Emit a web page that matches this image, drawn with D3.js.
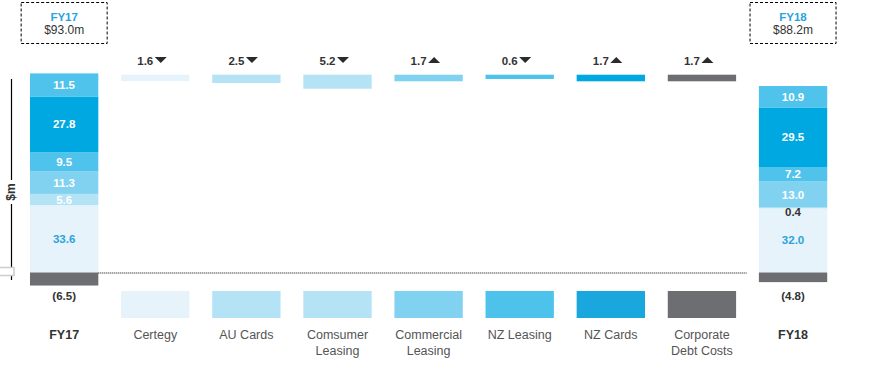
<!DOCTYPE html>
<html lang="en">
<head>
<meta charset="UTF-8">
<title>FY17 to FY18 bridge</title>
<script src="https://cdn.jsdelivr.net/npm/d3@7"></script>
<style>
  * { margin: 0; padding: 0; }
  body { background: #fff; }
  text { font-family: "Liberation Sans", Arial, sans-serif; }
</style>
</head>
<body>
<script>
  const width = 870
  const height = 374

  // data
  const categories = ['FY17', 'Certegy', 'AU Cards', 'Comsumer Leasing', 'Commercial Leasing',
    'NZ Leasing', 'NZ Cards', 'Corporate Debt Costs', 'FY18']
  const totalLabels = ['$93.0m', '$88.2m']
  // stack order, bottom to top
  const stackSegments = ['Certegy', 'Comsumer Leasing', 'Commercial Leasing', 'AU Cards', 'NZ Cards', 'NZ Leasing']
  const fy17Values = [33.6, 5.6, 11.3, 9.5, 27.8, 11.5]
  const fy18Values = [32.0, 0.4, 13.0, 7.2, 29.5, 10.9]
  const debtValues = [-6.5, -4.8]
  const moveValues = [1.6, 2.5, 5.2, 1.7, 0.6, 1.7, 1.7]
  const moveUp = [false, false, false, true, false, true, true]

  const segColors = ['#e7f3fa', '#b3e3f4', '#80d2f0', '#4fc3ec', '#00a8e1', '#4fc3ec']
  const moveColors = ['#e7f3fa', '#b3e3f4', '#b3e3f4', '#80d2f0', '#4dc3ec', '#00a8e1', '#6d6e71']
  const keyColors = ['#e7f3fa', '#b3e3f4', '#b3e3f4', '#80d2f0', '#4dc3ec', '#1aa7dd', '#6d6e71']
  const grey = '#6d6e71'
  const dark = '#333'

  const svg = d3.select('body').append('svg')
    .attr('width', width)
    .attr('height', height)

  const x = d3.scaleBand()
    .domain(categories)
    .range([18.6, 838.6])
    .paddingInner(0.25)
    .paddingOuter(0.125)
  const bw = x.bandwidth()
  const cx = d => x(d) + bw / 2

  const y = d3.scaleLinear().domain([0, 100]).range([272.5, 72])
  const moveH = d3.scaleLinear().domain([0, 5.2]).range([3, 14])

  // y axis line and label
  svg.append('line')
    .attr('x1', 11.5).attr('x2', 11.5).attr('y1', 79).attr('y2', 280)
    .attr('stroke', '#000').attr('stroke-width', 1.2)
  svg.append('rect')
    .attr('x', 4).attr('y', 180).attr('width', 15).attr('height', 24).attr('fill', '#fff')
  svg.append('text')
    .attr('transform', 'translate(15,192) rotate(-90)')
    .attr('text-anchor', 'middle')
    .attr('font-size', 12).attr('font-weight', 'bold').attr('fill', dark)
    .text('$m')
  svg.append('rect')
    .attr('x', -3).attr('y', 267.5).attr('width', 17).attr('height', 8)
    .attr('fill', '#fff').attr('stroke', '#ccc').attr('stroke-width', 1.5)

  // totals stacks
  const totals = [
    { name: 'FY17', values: fy17Values, debt: debtValues[0], label: totalLabels[0] },
    { name: 'FY18', values: fy18Values, debt: debtValues[1], label: totalLabels[1] }
  ]

  totals.forEach(t => {
    let base = 0
    const g = svg.append('g')
    const segs = t.values.map((v, i) => {
      const s = { v: v, y0: base, y1: base + v, i: i }
      base += v
      return s
    })
    g.selectAll('rect.seg')
      .data(segs)
      .enter().append('rect')
      .attr('class', 'seg')
      .attr('x', x(t.name))
      .attr('width', bw)
      .attr('y', d => y(d.y1))
      .attr('height', d => y(d.y0) - y(d.y1))
      .attr('fill', d => segColors[d.i])

    g.selectAll('text.seg')
      .data(segs)
      .enter().append('text')
      .attr('class', 'seg')
      .attr('x', cx(t.name))
      .attr('y', d => {
        const h = y(d.y0) - y(d.y1)
        return h < 10 ? y(d.y0) + 8 : (y(d.y0) + y(d.y1)) / 2 + 4
      })
      .attr('text-anchor', 'middle')
      .attr('font-size', 11.5).attr('font-weight', 'bold')
      .attr('fill', d => {
        const h = y(d.y0) - y(d.y1)
        if (h < 10) return dark
        return d.i === 0 ? '#29a3dc' : '#fff'
      })
      .text(d => d3.format('.1f')(d.v))

    // negative part
    g.append('rect')
      .attr('x', x(t.name)).attr('width', bw)
      .attr('y', y(0)).attr('height', y(t.debt) - y(0))
      .attr('fill', grey)
    g.append('text')
      .attr('x', cx(t.name)).attr('y', 300)
      .attr('text-anchor', 'middle')
      .attr('font-size', 11.5).attr('font-weight', 'bold').attr('fill', dark)
      .text('(' + d3.format('.1f')(-t.debt) + ')')

    // dashed box at the top
    g.append('rect')
      .attr('x', cx(t.name) - 43).attr('y', 2.5).attr('width', 86).attr('height', 41)
      .attr('fill', 'none').attr('stroke', '#000').attr('stroke-dasharray', '3,2')
    g.append('text')
      .attr('x', cx(t.name)).attr('y', 21)
      .attr('text-anchor', 'middle')
      .attr('font-size', 11.5).attr('font-weight', 'bold').attr('fill', '#29a3dc')
      .text(t.name)
    g.append('text')
      .attr('x', cx(t.name)).attr('y', 33.5)
      .attr('text-anchor', 'middle')
      .attr('font-size', 12).attr('fill', dark)
      .text(t.label)
  })

  // zero line
  svg.append('line')
    .attr('x1', x('FY17') + bw).attr('x2', x('FY18') - 12)
    .attr('y1', y(0) + 0.5).attr('y2', y(0) + 0.5)
    .attr('stroke', '#000').attr('stroke-dasharray', '1,1')

  // movement bars
  const moves = categories.slice(1, 8).map((c, i) => ({ c: c, v: moveValues[i], up: moveUp[i], i: i }))

  svg.selectAll('.move')
    .data(moves)
    .enter().append('rect')
    .attr('class', 'move')
    .attr('x', d => x(d.c))
    .attr('y', 74.7)
    .attr('width', bw)
    .attr('height', d => moveH(d.v))
    .attr('fill', d => moveColors[d.i])

  const ml = svg.selectAll('.moveLabel')
    .data(moves)
    .enter().append('g')
    .attr('class', 'moveLabel')
    .attr('transform', d => 'translate(' + (cx(d.c) - 2) + ',65)')
  ml.append('text')
    .attr('text-anchor', 'end')
    .attr('x', 0)
    .attr('font-size', 11.5).attr('font-weight', 'bold').attr('fill', dark)
    .text(d => d3.format('.1f')(d.v))
  ml.append('path')
    .attr('d', d => d.up ? 'M1.5,-2L13.5,-2L7.5,-8Z' : 'M1.5,-8L13.5,-8L7.5,-2Z')
    .attr('fill', '#2b2b2b')

  // key squares
  svg.selectAll('.key')
    .data(moves)
    .enter().append('rect')
    .attr('class', 'key')
    .attr('x', d => x(d.c))
    .attr('y', 291)
    .attr('width', bw)
    .attr('height', 27)
    .attr('fill', d => keyColors[d.i])

  // category labels
  const catSplit = {
    'Comsumer Leasing': ['Comsumer', 'Leasing'],
    'Commercial Leasing': ['Commercial', 'Leasing'],
    'Corporate Debt Costs': ['Corporate', 'Debt Costs']
  }
  const cl = svg.selectAll('.cat')
    .data(categories)
    .enter().append('text')
    .attr('class', 'cat')
    .attr('x', d => cx(d))
    .attr('y', 339)
    .attr('text-anchor', 'middle')
    .attr('font-size', 12.5)
    .attr('font-weight', d => d.startsWith('FY') ? 'bold' : 'normal')
    .attr('fill', d => d.startsWith('FY') ? dark : '#555')
  cl.selectAll('tspan')
    .data(d => catSplit[d] || [d])
    .enter().append('tspan')
    .attr('x', function () { return d3.select(this.parentNode).attr('x') })
    .attr('dy', (d, i) => i === 0 ? 0 : 15.5)
    .text(d => d)
</script>
</body>
</html>
